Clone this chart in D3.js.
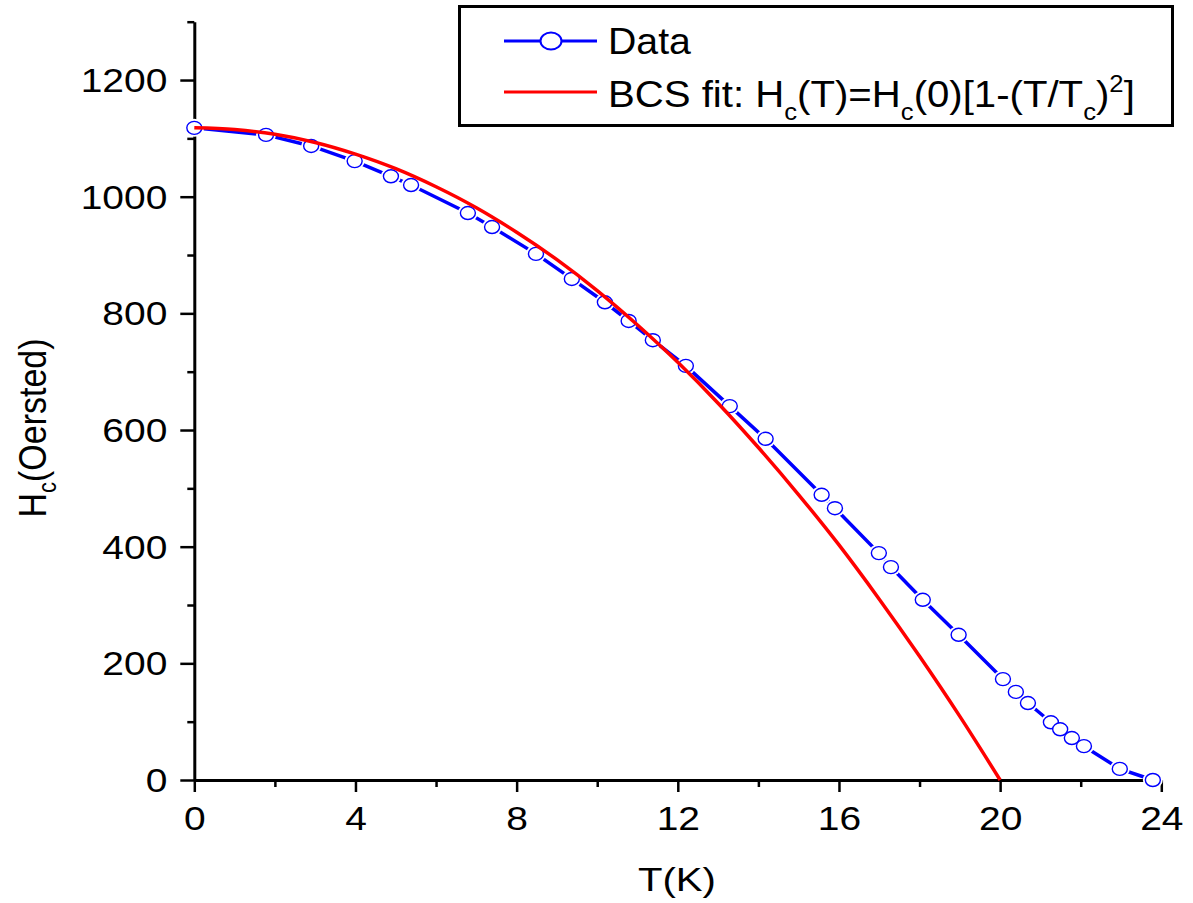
<!DOCTYPE html>
<html><head><meta charset="utf-8">
<script src="https://cdn.jsdelivr.net/npm/d3@7"></script>
<style>body{margin:0;background:#fff}svg{display:block}</style></head>
<body><svg id="c" width="1193" height="903"></svg>
<script>
const tempK = [0,1.78,2.9,3.98,4.88,5.38,6.79,7.39,8.48,9.37,10.19,10.78,11.38,12.2,13.29,14.18,15.57,15.9,16.99,17.29,18.08,18.97,20.07,20.39,20.69,21.26,21.49,21.78,22.08,22.97,23.79];
const hcData = [1118,1106,1087,1061,1035,1020,972,948,902,859,819,787,754,710,641,585,489,466,389,365,309,249,173,151,132,99,87,72,58,19,0];
// BCS fit curve
const fitT = [0,1,2,3,4,5,6,7,8,9,10,11,12,13,14,15,16,17,18,19,20];
const fitH = [1118,1115,1107,1093,1073,1048,1017,981,939,892,839,780,716,646,570,489,403,310,212,109,0];
const xTickVals = [0,4,8,12,16,20,24];
const xMinorVals = [2,6,10,14,18,22];
const yTickVals = [0,200,400,600,800,1000,1200];
const yMinorVals = [100,300,500,700,900,1100,1300];

const svg = d3.select('#c');
const FONT = '"Liberation Sans", Arial, sans-serif';
const x = d3.scaleLinear().domain([0,24]).range([194.3,1161.3]);
const y = d3.scaleLinear().domain([0,1300]).range([780,21.7]);
const SX = 1.18;

// axes
const gx = svg.append('g').attr('transform','translate(0,780)');
gx.call(d3.axisBottom(x).tickValues(xTickVals).tickSize(12).tickSizeOuter(0).tickFormat(d3.format('d')));
gx.append('g').call(d3.axisBottom(x).tickValues(xMinorVals).tickSize(7).tickSizeOuter(0).tickFormat(''))
  .select('.domain').remove();
const gy = svg.append('g').attr('transform','translate(194.3,0)');
gy.call(d3.axisLeft(y).tickValues(yTickVals).tickSize(14).tickSizeOuter(0).tickFormat(d3.format('d')));
gy.append('g').call(d3.axisLeft(y).tickValues(yMinorVals).tickSize(7).tickSizeOuter(0).tickFormat(''))
  .select('.domain').remove();
svg.selectAll('.domain').attr('stroke','#000').attr('stroke-width',3);
svg.selectAll('.tick line').attr('stroke','#000').attr('stroke-width',2.5);
gx.selectAll('.tick text').attr('font-family',FONT).attr('font-size',33).attr('fill','#000')
  .attr('dy',null).attr('y',50).attr('transform',`scale(${SX},1)`);
gy.selectAll('.tick text').attr('font-family',FONT).attr('font-size',33).attr('fill','#000')
  .attr('dy','0.35em').attr('x',-27/SX).attr('transform',`scale(${SX},1)`);

// data line
const pts = tempK.map((t,i)=>[t,hcData[i]]);
svg.append('path').datum(pts)
  .attr('d', d3.line().x(d=>x(d[0])).y(d=>y(d[1])))
  .attr('fill','none').attr('stroke','#0000ff').attr('stroke-width',3.5);
// halo gaps
svg.append('g').selectAll('ellipse').data(pts).join('ellipse')
  .attr('cx',d=>x(d[0])).attr('cy',d=>y(d[1])).attr('rx',10).attr('ry',9).attr('fill','#fff');
svg.append('g').selectAll('ellipse').data(pts).join('ellipse')
  .attr('cx',d=>x(d[0])).attr('cy',d=>y(d[1])).attr('rx',7.5).attr('ry',6.5)
  .attr('fill','#fff').attr('stroke','#0000ff').attr('stroke-width',1.4);

// fit line
const fitPts = fitT.map((t,i)=>[t,fitH[i]]);
svg.append('path').datum(fitPts)
  .attr('d', d3.line().curve(d3.curveMonotoneX).x(d=>x(d[0])).y(d=>y(d[1])))
  .attr('fill','none').attr('stroke','#ff0000').attr('stroke-width',3.5);

function stretchTo(sel, x0, targetW){
  const w = sel.node().getBBox().width;
  const k = targetW / w;
  sel.attr('transform',`translate(${x0},0) scale(${k},1) translate(${-x0},0)`);
}
function stretchV(sel, x0, k){
  sel.attr('transform',`translate(${x0},0) scale(${k},1) translate(${-x0},0)`);
}

// axis titles
const xt = svg.append('text').attr('x',677).attr('y',891).attr('text-anchor','middle')
  .attr('font-family',FONT).attr('font-size',34).text('T(K)');
stretchV(xt, 677, SX);

const yt = svg.append('text').attr('transform','translate(46,428) rotate(-90) scale(1,1.15)')
  .attr('text-anchor','middle').attr('font-family',FONT).attr('font-size',34);
yt.append('tspan').text('H');
yt.append('tspan').attr('font-size',22).attr('dy',9).text('c');
yt.append('tspan').attr('dy',-9).text('(Oersted)');

// legend
svg.append('rect').attr('x',459.5).attr('y',6.5).attr('width',713).attr('height',119)
  .attr('fill','#fff').attr('stroke','#000').attr('stroke-width',3);
svg.append('line').attr('x1',504).attr('x2',597).attr('y1',41).attr('y2',41)
  .attr('stroke','#0000ff').attr('stroke-width',3);
svg.append('ellipse').attr('cx',551).attr('cy',41).attr('rx',10.5).attr('ry',8.5)
  .attr('fill','#fff').attr('stroke','#0000ff').attr('stroke-width',2);
svg.append('line').attr('x1',504).attr('x2',597).attr('y1',92).attr('y2',92)
  .attr('stroke','#ff0000').attr('stroke-width',3);
const l1 = svg.append('text').attr('x',608).attr('y',54).attr('font-family',FONT).attr('font-size',36).text('Data');
stretchTo(l1, 608, 84);
const l2 = svg.append('text').attr('x',608).attr('y',107).attr('font-family',FONT).attr('font-size',36);
l2.append('tspan').text('BCS fit: H');
l2.append('tspan').attr('font-size',23).attr('dy',13).text('c');
l2.append('tspan').attr('dy',-13).text('(T)=H');
l2.append('tspan').attr('font-size',23).attr('dy',13).text('c');
l2.append('tspan').attr('dy',-13).text('(0)[1-(T/T');
l2.append('tspan').attr('font-size',23).attr('dy',13).text('c');
l2.append('tspan').attr('dy',-13).text(')');
l2.append('tspan').attr('font-size',23).attr('dy',-15).text('2');
l2.append('tspan').attr('dy',15).text(']');
stretchTo(l2, 608, 527);
</script></body></html>
